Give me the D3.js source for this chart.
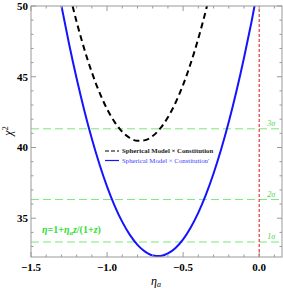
<!DOCTYPE html>
<html>
<head>
<meta charset="utf-8">
<script src="https://cdn.jsdelivr.net/npm/d3@7"></script>
<style>
  html, body { margin: 0; padding: 0; background: #fff; }
  svg { display: block; }
</style>
</head>
<body>
<div id="chart"></div>
<script>
// values
var etaGrid = [-1.35, -1.30, -1.25, -1.20, -1.15, -1.10, -1.05, -1.00, -0.95, -0.90, -0.85, -0.80, -0.75, -0.70,
               -0.65, -0.60, -0.55, -0.50, -0.45, -0.40, -0.35, -0.30, -0.25, -0.20, -0.15, -0.10, -0.05, 0.00];
var chi2Prime = [52.90, 50.01, 47.33, 44.87, 42.64, 40.62, 38.82, 37.24, 35.88, 34.74, 33.82, 33.12, 32.64, 32.37,
                 32.33, 32.51, 32.90, 33.51, 34.35, 35.40, 36.67, 38.16, 39.87, 41.80, 43.95, 46.32, 48.91, 51.72];
var etaGridB = [-1.30, -1.25, -1.20, -1.15, -1.10, -1.05, -1.00, -0.95, -0.90, -0.85, -0.80, -0.75, -0.70,
                -0.65, -0.60, -0.55, -0.50, -0.45, -0.40, -0.35, -0.30];
var chi2Plain = [53.43, 51.03, 48.88, 46.97, 45.31, 43.89, 42.72, 41.79, 41.11, 40.67, 40.47, 40.52, 40.81,
                 41.35, 42.13, 43.16, 44.43, 45.95, 47.71, 49.71, 51.96];
var sigmaLevels = [33.32, 36.32, 41.32];
var sigmaLabels = ["1σ", "2σ", "3σ"];
var xTicks = [-1.5, -1.0, -0.5, 0.0];
var yTicks = [35, 40, 45, 50];
var legendLabels = ["Spherical Model × Constitution", "Spherical Model × Constitution'"];
var markerEta = 0.0;

var width = 283, height = 290;
var margin = {left: 31, right: 1, top: 6, bottom: 33};

var x = d3.scaleLinear().domain([-1.5, 0.15]).range([margin.left, width - margin.right]);
var y = d3.scaleLinear().domain([32.26, 50]).range([height - margin.bottom, margin.top]);

var svg = d3.select('#chart').append('svg')
  .attr('width', width)
  .attr('height', height)
  .style('font-family', '"Liberation Serif", "Times New Roman", serif');

svg.append('clipPath').attr('id', 'plot')
  .append('rect')
  .attr('x', x.range()[0]).attr('y', y.range()[1])
  .attr('width', x.range()[1] - x.range()[0])
  .attr('height', y.range()[0] - y.range()[1]);

var plot = svg.append('g').attr('clip-path', 'url(#plot)');

// sigma levels
plot.selectAll('line.sig').data(sigmaLevels)
  .enter().append('line')
  .attr('class', 'sig')
  .attr('x1', x.range()[0]).attr('x2', x.range()[1])
  .attr('y1', function(d) { return y(d); })
  .attr('y2', function(d) { return y(d); })
  .attr('stroke', '#7be87b')
  .attr('stroke-width', 1)
  .attr('stroke-dasharray', '8,4');

svg.selectAll('text.sig').data(sigmaLevels)
  .enter().append('text')
  .attr('class', 'sig')
  .attr('x', x(0.08))
  .attr('y', function(d) { return y(d) - 3; })
  .attr('text-anchor', 'middle')
  .attr('font-size', 8)
  .attr('font-style', 'italic')
  .attr('fill', '#4ad24a')
  .text(function(d, i) { return sigmaLabels[i]; });

// eta = 0 marker
plot.append('line')
  .attr('x1', x(markerEta)).attr('x2', x(markerEta))
  .attr('y1', y.range()[0]).attr('y2', y.range()[1])
  .attr('stroke', '#e01010')
  .attr('stroke-width', 1)
  .attr('stroke-dasharray', '3,2');

var line = d3.line()
  .x(function(d) { return x(d[0]); })
  .y(function(d) { return y(d[1]); })
  .curve(d3.curveMonotoneX);

plot.append('path')
  .datum(d3.zip(etaGridB, chi2Plain))
  .attr('d', line)
  .attr('fill', 'none')
  .attr('stroke', '#000')
  .attr('stroke-width', 2)
  .attr('stroke-dasharray', '6,4');

plot.append('path')
  .datum(d3.zip(etaGrid, chi2Prime))
  .attr('d', line)
  .attr('fill', 'none')
  .attr('stroke', '#1414ff')
  .attr('stroke-width', 2);

// frame with inward ticks
var frame = svg.append('g').attr('stroke', '#9a9a9a').attr('stroke-width', 1);
frame.append('rect')
  .attr('x', x.range()[0]).attr('y', y.range()[1])
  .attr('width', x.range()[1] - x.range()[0])
  .attr('height', y.range()[0] - y.range()[1])
  .attr('fill', 'none');

var xMinor = d3.range(-1.5, 0.151, 0.1);
var yMinor = d3.range(33, 50.01, 1);
function isMajor(v, list) { return list.some(function(t) { return Math.abs(t - v) < 1e-6; }); }

xMinor.forEach(function(v) {
  var len = isMajor(v, xTicks) ? 5 : 2.5;
  frame.append('line').attr('x1', x(v)).attr('x2', x(v)).attr('y1', y.range()[0]).attr('y2', y.range()[0] - len);
  frame.append('line').attr('x1', x(v)).attr('x2', x(v)).attr('y1', y.range()[1]).attr('y2', y.range()[1] + len);
});
yMinor.forEach(function(v) {
  var len = isMajor(v, yTicks) ? 5 : 2.5;
  frame.append('line').attr('y1', y(v)).attr('y2', y(v)).attr('x1', x.range()[0]).attr('x2', x.range()[0] + len);
  frame.append('line').attr('y1', y(v)).attr('y2', y(v)).attr('x1', x.range()[1]).attr('x2', x.range()[1] - len);
});

var fmt = d3.format('.1f');
svg.selectAll('text.xt').data(xTicks)
  .enter().append('text')
  .attr('x', function(d) { return x(d); })
  .attr('y', y.range()[0] + 14)
  .attr('text-anchor', 'middle')
  .attr('font-size', 11)
  .attr('font-weight', 'bold')
  .text(function(d) { return fmt(d); });

svg.selectAll('text.yt').data(yTicks)
  .enter().append('text')
  .attr('x', x.range()[0] - 3)
  .attr('y', function(d) { return y(d) + 4; })
  .attr('text-anchor', 'end')
  .attr('font-size', 11)
  .attr('font-weight', 'bold')
  .text(function(d) { return d; });

// axis labels
var xl = svg.append('text')
  .attr('x', 156).attr('y', 285)
  .attr('text-anchor', 'middle')
  .attr('font-size', 12)
  .attr('font-style', 'italic');
xl.append('tspan').text('η');
xl.append('tspan').attr('font-size', 8).attr('dy', 2).text('a');

var yl = svg.append('text')
  .attr('transform', 'translate(12,131) rotate(-90)')
  .attr('text-anchor', 'middle')
  .attr('font-size', 12)
  .attr('font-style', 'italic');
yl.append('tspan').text('χ');
yl.append('tspan').attr('font-size', 8).attr('dy', -4).attr('font-style', 'normal').text('2');

// formula
var ft = svg.append('text')
  .attr('x', 42).attr('y', 233)
  .attr('font-size', 10)
  .attr('font-weight', 'bold')
  .attr('fill', '#33dd33');
ft.append('tspan').attr('font-style', 'italic').text('η');
ft.append('tspan').text('=1+');
ft.append('tspan').attr('font-style', 'italic').text('η');
ft.append('tspan').attr('font-style', 'italic').attr('font-size', 7).attr('dy', 2).text('a');
ft.append('tspan').attr('font-style', 'italic').attr('dy', -2).text('z');
ft.append('tspan').text('/(1+');
ft.append('tspan').attr('font-style', 'italic').text('z');
ft.append('tspan').text(')');

// legend
var legend = svg.append('g');
var legendStyle = [
  {stroke: '#000', dash: '4,2', weight: 'bold', fill: '#222'},
  {stroke: '#1414ff', dash: null, weight: 'normal', fill: '#3c3cff'}
];
legendLabels.forEach(function(label, i) {
  var ly = 153 + i * 9.5;
  legend.append('line')
    .attr('x1', 105).attr('x2', 119)
    .attr('y1', ly - 2).attr('y2', ly - 2)
    .attr('stroke', legendStyle[i].stroke)
    .attr('stroke-width', 1.2)
    .attr('stroke-dasharray', legendStyle[i].dash);
  legend.append('text')
    .attr('x', 122).attr('y', ly)
    .attr('font-size', 6.8)
    .attr('font-weight', legendStyle[i].weight)
    .attr('fill', legendStyle[i].fill)
    .text(label);
});
</script>
</body>
</html>
